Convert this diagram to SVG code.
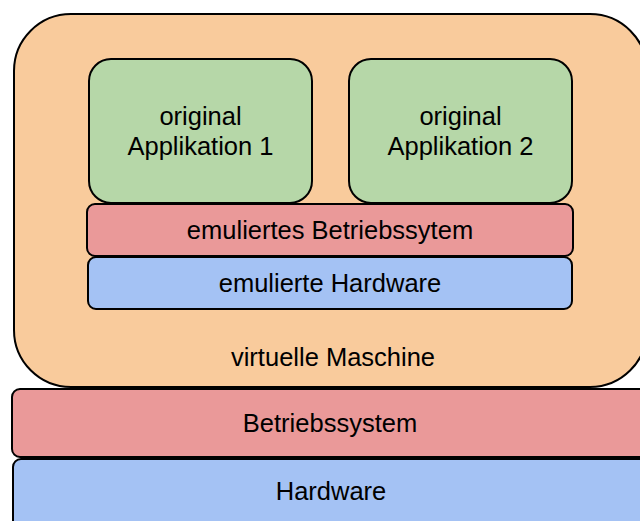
<svg xmlns="http://www.w3.org/2000/svg" width="640" height="521" viewBox="0 0 640 521">
  <style>
    .box { stroke: #000; stroke-width: 2; }
    .vm { fill: #f9cb9c; }
    .app { fill: #b6d7a8; }
    .os { fill: #ea9999; }
    .hw { fill: #a4c2f4; }
    text { font-family: "Liberation Sans", Arial, sans-serif; font-size: 25.5px; fill: #000; text-anchor: middle; }
  </style>
  <rect width="640" height="521" fill="#fff"/>

  <g id="virtuelle-maschine">
    <rect class="box vm" x="14" y="14" width="633" height="373" rx="57" ry="57"/>
    <text x="333" y="366">virtuelle Maschine</text>
  </g>

  <g id="applikation-1">
    <rect class="box app" x="89" y="59" width="223" height="144" rx="22" ry="22"/>
    <text x="200.5" y="125">original</text>
    <text x="200.5" y="155">Applikation 1</text>
  </g>

  <g id="applikation-2">
    <rect class="box app" x="349" y="59" width="223" height="144" rx="22" ry="22"/>
    <text x="460.5" y="125">original</text>
    <text x="460.5" y="155">Applikation 2</text>
  </g>

  <g id="emuliertes-betriebssystem">
    <rect class="box os" x="87" y="204" width="486" height="52" rx="8" ry="8"/>
    <text x="330" y="239">emuliertes Betriebssytem</text>
  </g>

  <g id="emulierte-hardware">
    <rect class="box hw" x="88" y="257" width="484" height="52" rx="8" ry="8"/>
    <text x="330" y="292">emulierte Hardware</text>
  </g>

  <g id="betriebssystem">
    <rect class="box os" x="12" y="389" width="640" height="68" rx="8" ry="8"/>
    <text x="330" y="432">Betriebssystem</text>
  </g>

  <g id="hardware">
    <rect class="box hw" x="13" y="459" width="640" height="80" rx="8" ry="8"/>
    <text x="331" y="500">Hardware</text>
  </g>

  <g id="connectors"/>
</svg>
